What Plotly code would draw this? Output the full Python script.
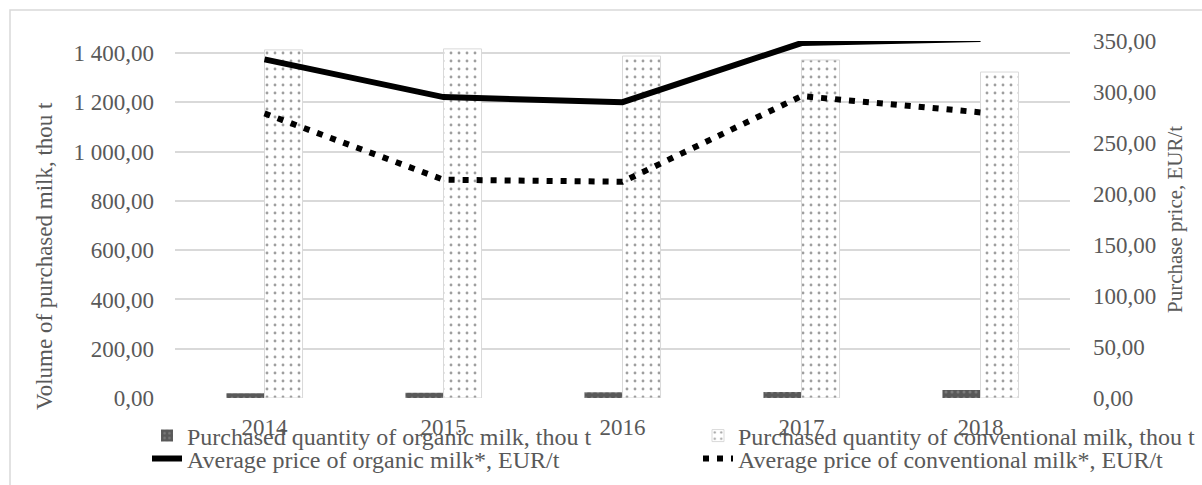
import plotly.graph_objects as go

years = ["2014", "2015", "2016", "2017", "2018"]
organic_qty = [19, 21, 23, 24, 32]
conventional_qty = [1413, 1417, 1388, 1372, 1323]
organic_price = [332, 295, 290, 348, 352]
conventional_price = [279, 214, 212, 296, 280]

left_tickvals = [0, 200, 400, 600, 800, 1000, 1200, 1400]
left_ticktext = ["0,00", "200,00", "400,00", "600,00", "800,00", "1 000,00", "1 200,00", "1 400,00"]
right_tickvals = [0, 50, 100, 150, 200, 250, 300, 350]
right_ticktext = ["0,00", "50,00", "100,00", "150,00", "200,00", "250,00", "300,00", "350,00"]

W, H = 1202, 485
L, R, T, B = 175, 1070, 41, 398
PW, PH = R - L, B - T

def px_x(p):
    return (p - L) / PW

def px_y(p):
    return (B - p) / PH

FONT = "Liberation Serif"
GREY = "#595959"

fig = go.Figure()
fig.add_trace(go.Bar(
    x=years, y=organic_qty, name="Purchased quantity of organic milk, thou t",
    marker=dict(color="#595959", line=dict(width=0),
                pattern=dict(shape=".", fgcolor="#a0a0a0", bgcolor="#595959", size=6, solidity=0.2)),
    legend="legend",
))
fig.add_trace(go.Bar(
    x=years, y=conventional_qty, name="Purchased quantity of conventional milk, thou t",
    marker=dict(color="white", line=dict(width=1, color="#d9d9d9"),
                pattern=dict(shape=".", fgcolor="#404040", bgcolor="white", size=8, solidity=0.1)),
    legend="legend2",
))
fig.add_trace(go.Scatter(
    x=years, y=organic_price, yaxis="y2", mode="lines",
    name="Average price of organic milk*, EUR/t",
    line=dict(color="black", width=6),
    legend="legend3",
))
fig.add_trace(go.Scatter(
    x=years, y=conventional_price, yaxis="y2", mode="lines",
    name="Average price of conventional milk*, EUR/t",
    line=dict(color="black", width=6, dash="6px,8px"),
    legend="legend4",
))

def leg(xpx, ypx):
    return dict(orientation="h", x=px_x(xpx), xanchor="left", y=px_y(ypx), yanchor="middle",
                bgcolor="rgba(0,0,0,0)", font=dict(size=24, color=GREY, family=FONT),
                itemwidth=30)

fig.update_layout(
    width=W, height=H,
    margin=dict(l=L, r=W - R, t=T, b=H - B, autoexpand=False),
    paper_bgcolor="white", plot_bgcolor="white",
    font=dict(family=FONT, size=23, color=GREY),
    barmode="group", bargap=0.575, bargroupgap=0,
    xaxis=dict(type="category", range=[-0.5, 4.5], showgrid=False, showline=False,
               ticks="", ticklabelstandoff=13,
               tickfont=dict(family=FONT, size=23, color=GREY),
               zeroline=False),
    yaxis=dict(range=[0, 1449], tickvals=left_tickvals, ticktext=left_ticktext,
               showgrid=True, gridcolor="#d9d9d9", gridwidth=1.5, zeroline=False,
               showline=False, ticks="", ticklabelstandoff=20,
               tickfont=dict(family=FONT, size=23, color=GREY)),
    yaxis2=dict(range=[0, 350], tickvals=right_tickvals, ticktext=right_ticktext,
                overlaying="y", side="right", showgrid=False, zeroline=False,
                showline=False, ticks="", ticklabelstandoff=22,
                tickfont=dict(family=FONT, size=23, color=GREY)),
    legend=leg(147, 436),
    legend2=leg(698, 436),
    legend3=leg(147, 459),
    legend4=leg(698, 459),
    showlegend=True,
)

fig.add_annotation(text="Volume of purchased milk, thou t", textangle=-90,
                   xref="paper", yref="paper", x=px_x(44), y=px_y(256),
                   xanchor="center", yanchor="middle", showarrow=False,
                   font=dict(size=23, color=GREY, family=FONT))
fig.add_annotation(text="Purchase price, EUR/t", textangle=-90,
                   xref="paper", yref="paper", x=px_x(1175), y=px_y(220),
                   xanchor="center", yanchor="middle", showarrow=False,
                   font=dict(size=21, color=GREY, family=FONT))

fig.add_shape(type="rect", xref="paper", yref="paper",
              x0=px_x(10), x1=px_x(1215), y0=px_y(500), y1=px_y(10),
              line=dict(color="#d9d9d9", width=1.5), fillcolor="rgba(0,0,0,0)", layer="below")

fig.write_html("out.html", config={"displayModeBar": False},
               post_script="document.body.style.margin='0';document.body.style.overflow='hidden';")
